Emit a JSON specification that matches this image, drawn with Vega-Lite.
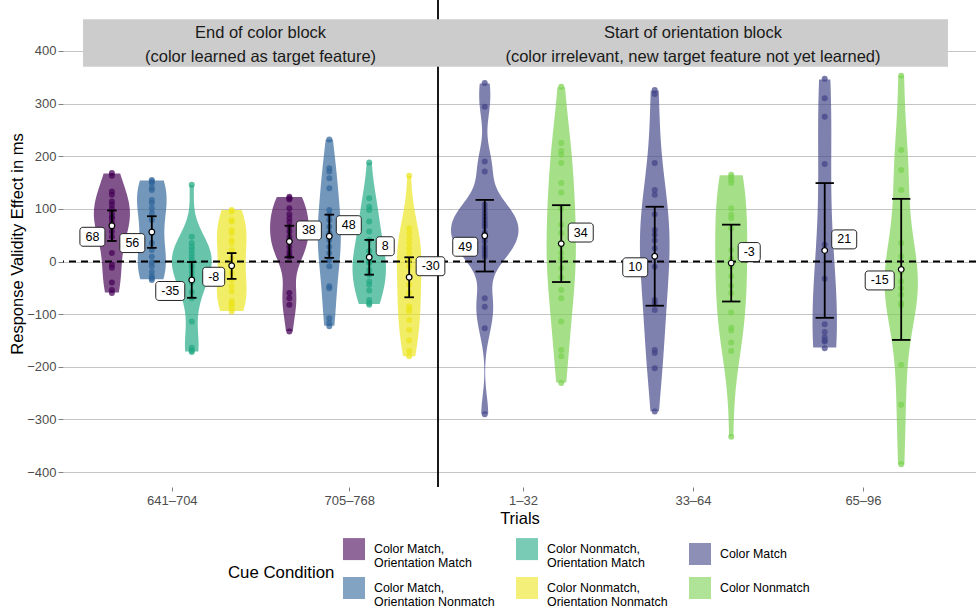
{
  "$schema": "https://vega.github.io/schema/vega-lite/v6.json",
  "width": 913,
  "height": 487,
  "autosize": {"type": "none"},
  "padding": {"left": 63, "top": 0, "right": 0, "bottom": 122},
  "background": "white",
  "config": {"font": "Liberation Sans", "view": {"stroke": null}},
  "datasets": {
    "responses": [
      {"trial":"641–704","condition":"Color Match, Orientation Match","effect":168},
      {"trial":"641–704","condition":"Color Match, Orientation Match","effect":163},
      {"trial":"641–704","condition":"Color Match, Orientation Match","effect":133},
      {"trial":"641–704","condition":"Color Match, Orientation Match","effect":127},
      {"trial":"641–704","condition":"Color Match, Orientation Match","effect":114},
      {"trial":"641–704","condition":"Color Match, Orientation Match","effect":108},
      {"trial":"641–704","condition":"Color Match, Orientation Match","effect":100},
      {"trial":"641–704","condition":"Color Match, Orientation Match","effect":92},
      {"trial":"641–704","condition":"Color Match, Orientation Match","effect":85},
      {"trial":"641–704","condition":"Color Match, Orientation Match","effect":82},
      {"trial":"641–704","condition":"Color Match, Orientation Match","effect":75},
      {"trial":"641–704","condition":"Color Match, Orientation Match","effect":66},
      {"trial":"641–704","condition":"Color Match, Orientation Match","effect":57},
      {"trial":"641–704","condition":"Color Match, Orientation Match","effect":47},
      {"trial":"641–704","condition":"Color Match, Orientation Match","effect":16},
      {"trial":"641–704","condition":"Color Match, Orientation Match","effect":-6},
      {"trial":"641–704","condition":"Color Match, Orientation Match","effect":-12},
      {"trial":"641–704","condition":"Color Match, Orientation Match","effect":-40},
      {"trial":"641–704","condition":"Color Match, Orientation Match","effect":-54},
      {"trial":"641–704","condition":"Color Match, Orientation Match","effect":-60},
      {"trial":"641–704","condition":"Color Match, Orientation Nonmatch","effect":155},
      {"trial":"641–704","condition":"Color Match, Orientation Nonmatch","effect":152},
      {"trial":"641–704","condition":"Color Match, Orientation Nonmatch","effect":149},
      {"trial":"641–704","condition":"Color Match, Orientation Nonmatch","effect":140},
      {"trial":"641–704","condition":"Color Match, Orientation Nonmatch","effect":136},
      {"trial":"641–704","condition":"Color Match, Orientation Nonmatch","effect":117},
      {"trial":"641–704","condition":"Color Match, Orientation Nonmatch","effect":111},
      {"trial":"641–704","condition":"Color Match, Orientation Nonmatch","effect":101},
      {"trial":"641–704","condition":"Color Match, Orientation Nonmatch","effect":92},
      {"trial":"641–704","condition":"Color Match, Orientation Nonmatch","effect":79},
      {"trial":"641–704","condition":"Color Match, Orientation Nonmatch","effect":54},
      {"trial":"641–704","condition":"Color Match, Orientation Nonmatch","effect":35},
      {"trial":"641–704","condition":"Color Match, Orientation Nonmatch","effect":22},
      {"trial":"641–704","condition":"Color Match, Orientation Nonmatch","effect":9},
      {"trial":"641–704","condition":"Color Match, Orientation Nonmatch","effect":-2},
      {"trial":"641–704","condition":"Color Match, Orientation Nonmatch","effect":-9},
      {"trial":"641–704","condition":"Color Match, Orientation Nonmatch","effect":-20},
      {"trial":"641–704","condition":"Color Match, Orientation Nonmatch","effect":-28},
      {"trial":"641–704","condition":"Color Match, Orientation Nonmatch","effect":-32},
      {"trial":"641–704","condition":"Color Match, Orientation Nonmatch","effect":-35},
      {"trial":"641–704","condition":"Color Nonmatch, Orientation Match","effect":146},
      {"trial":"641–704","condition":"Color Nonmatch, Orientation Match","effect":47},
      {"trial":"641–704","condition":"Color Nonmatch, Orientation Match","effect":35},
      {"trial":"641–704","condition":"Color Nonmatch, Orientation Match","effect":28},
      {"trial":"641–704","condition":"Color Nonmatch, Orientation Match","effect":22},
      {"trial":"641–704","condition":"Color Nonmatch, Orientation Match","effect":15},
      {"trial":"641–704","condition":"Color Nonmatch, Orientation Match","effect":9},
      {"trial":"641–704","condition":"Color Nonmatch, Orientation Match","effect":3},
      {"trial":"641–704","condition":"Color Nonmatch, Orientation Match","effect":-6},
      {"trial":"641–704","condition":"Color Nonmatch, Orientation Match","effect":-12},
      {"trial":"641–704","condition":"Color Nonmatch, Orientation Match","effect":-20},
      {"trial":"641–704","condition":"Color Nonmatch, Orientation Match","effect":-28},
      {"trial":"641–704","condition":"Color Nonmatch, Orientation Match","effect":-40},
      {"trial":"641–704","condition":"Color Nonmatch, Orientation Match","effect":-58},
      {"trial":"641–704","condition":"Color Nonmatch, Orientation Match","effect":-70},
      {"trial":"641–704","condition":"Color Nonmatch, Orientation Match","effect":-114},
      {"trial":"641–704","condition":"Color Nonmatch, Orientation Match","effect":-164},
      {"trial":"641–704","condition":"Color Nonmatch, Orientation Match","effect":-169},
      {"trial":"641–704","condition":"Color Nonmatch, Orientation Match","effect":-172},
      {"trial":"641–704","condition":"Color Nonmatch, Orientation Nonmatch","effect":98},
      {"trial":"641–704","condition":"Color Nonmatch, Orientation Nonmatch","effect":95},
      {"trial":"641–704","condition":"Color Nonmatch, Orientation Nonmatch","effect":79},
      {"trial":"641–704","condition":"Color Nonmatch, Orientation Nonmatch","effect":76},
      {"trial":"641–704","condition":"Color Nonmatch, Orientation Nonmatch","effect":60},
      {"trial":"641–704","condition":"Color Nonmatch, Orientation Nonmatch","effect":54},
      {"trial":"641–704","condition":"Color Nonmatch, Orientation Nonmatch","effect":41},
      {"trial":"641–704","condition":"Color Nonmatch, Orientation Nonmatch","effect":35},
      {"trial":"641–704","condition":"Color Nonmatch, Orientation Nonmatch","effect":22},
      {"trial":"641–704","condition":"Color Nonmatch, Orientation Nonmatch","effect":5},
      {"trial":"641–704","condition":"Color Nonmatch, Orientation Nonmatch","effect":-9},
      {"trial":"641–704","condition":"Color Nonmatch, Orientation Nonmatch","effect":-22},
      {"trial":"641–704","condition":"Color Nonmatch, Orientation Nonmatch","effect":-35},
      {"trial":"641–704","condition":"Color Nonmatch, Orientation Nonmatch","effect":-47},
      {"trial":"641–704","condition":"Color Nonmatch, Orientation Nonmatch","effect":-57},
      {"trial":"641–704","condition":"Color Nonmatch, Orientation Nonmatch","effect":-75},
      {"trial":"641–704","condition":"Color Nonmatch, Orientation Nonmatch","effect":-80},
      {"trial":"641–704","condition":"Color Nonmatch, Orientation Nonmatch","effect":-82},
      {"trial":"641–704","condition":"Color Nonmatch, Orientation Nonmatch","effect":-89},
      {"trial":"641–704","condition":"Color Nonmatch, Orientation Nonmatch","effect":-95},
      {"trial":"705–768","condition":"Color Match, Orientation Match","effect":123},
      {"trial":"705–768","condition":"Color Match, Orientation Match","effect":120},
      {"trial":"705–768","condition":"Color Match, Orientation Match","effect":118},
      {"trial":"705–768","condition":"Color Match, Orientation Match","effect":101},
      {"trial":"705–768","condition":"Color Match, Orientation Match","effect":90},
      {"trial":"705–768","condition":"Color Match, Orientation Match","effect":82},
      {"trial":"705–768","condition":"Color Match, Orientation Match","effect":75},
      {"trial":"705–768","condition":"Color Match, Orientation Match","effect":66},
      {"trial":"705–768","condition":"Color Match, Orientation Match","effect":57},
      {"trial":"705–768","condition":"Color Match, Orientation Match","effect":47},
      {"trial":"705–768","condition":"Color Match, Orientation Match","effect":38},
      {"trial":"705–768","condition":"Color Match, Orientation Match","effect":28},
      {"trial":"705–768","condition":"Color Match, Orientation Match","effect":19},
      {"trial":"705–768","condition":"Color Match, Orientation Match","effect":12},
      {"trial":"705–768","condition":"Color Match, Orientation Match","effect":9},
      {"trial":"705–768","condition":"Color Match, Orientation Match","effect":-60},
      {"trial":"705–768","condition":"Color Match, Orientation Match","effect":-70},
      {"trial":"705–768","condition":"Color Match, Orientation Match","effect":-82},
      {"trial":"705–768","condition":"Color Match, Orientation Match","effect":-133},
      {"trial":"705–768","condition":"Color Match, Orientation Nonmatch","effect":232},
      {"trial":"705–768","condition":"Color Match, Orientation Nonmatch","effect":177},
      {"trial":"705–768","condition":"Color Match, Orientation Nonmatch","effect":171},
      {"trial":"705–768","condition":"Color Match, Orientation Nonmatch","effect":158},
      {"trial":"705–768","condition":"Color Match, Orientation Nonmatch","effect":139},
      {"trial":"705–768","condition":"Color Match, Orientation Nonmatch","effect":98},
      {"trial":"705–768","condition":"Color Match, Orientation Nonmatch","effect":89},
      {"trial":"705–768","condition":"Color Match, Orientation Nonmatch","effect":79},
      {"trial":"705–768","condition":"Color Match, Orientation Nonmatch","effect":66},
      {"trial":"705–768","condition":"Color Match, Orientation Nonmatch","effect":54},
      {"trial":"705–768","condition":"Color Match, Orientation Nonmatch","effect":41},
      {"trial":"705–768","condition":"Color Match, Orientation Nonmatch","effect":28},
      {"trial":"705–768","condition":"Color Match, Orientation Nonmatch","effect":16},
      {"trial":"705–768","condition":"Color Match, Orientation Nonmatch","effect":3},
      {"trial":"705–768","condition":"Color Match, Orientation Nonmatch","effect":-9},
      {"trial":"705–768","condition":"Color Match, Orientation Nonmatch","effect":-47},
      {"trial":"705–768","condition":"Color Match, Orientation Nonmatch","effect":-51},
      {"trial":"705–768","condition":"Color Match, Orientation Nonmatch","effect":-108},
      {"trial":"705–768","condition":"Color Match, Orientation Nonmatch","effect":-117},
      {"trial":"705–768","condition":"Color Match, Orientation Nonmatch","effect":-123},
      {"trial":"705–768","condition":"Color Nonmatch, Orientation Match","effect":188},
      {"trial":"705–768","condition":"Color Nonmatch, Orientation Match","effect":120},
      {"trial":"705–768","condition":"Color Nonmatch, Orientation Match","effect":104},
      {"trial":"705–768","condition":"Color Nonmatch, Orientation Match","effect":98},
      {"trial":"705–768","condition":"Color Nonmatch, Orientation Match","effect":76},
      {"trial":"705–768","condition":"Color Nonmatch, Orientation Match","effect":57},
      {"trial":"705–768","condition":"Color Nonmatch, Orientation Match","effect":41},
      {"trial":"705–768","condition":"Color Nonmatch, Orientation Match","effect":20},
      {"trial":"705–768","condition":"Color Nonmatch, Orientation Match","effect":10},
      {"trial":"705–768","condition":"Color Nonmatch, Orientation Match","effect":9},
      {"trial":"705–768","condition":"Color Nonmatch, Orientation Match","effect":0},
      {"trial":"705–768","condition":"Color Nonmatch, Orientation Match","effect":-3},
      {"trial":"705–768","condition":"Color Nonmatch, Orientation Match","effect":-16},
      {"trial":"705–768","condition":"Color Nonmatch, Orientation Match","effect":-25},
      {"trial":"705–768","condition":"Color Nonmatch, Orientation Match","effect":-38},
      {"trial":"705–768","condition":"Color Nonmatch, Orientation Match","effect":-44},
      {"trial":"705–768","condition":"Color Nonmatch, Orientation Match","effect":-55},
      {"trial":"705–768","condition":"Color Nonmatch, Orientation Match","effect":-73},
      {"trial":"705–768","condition":"Color Nonmatch, Orientation Match","effect":-79},
      {"trial":"705–768","condition":"Color Nonmatch, Orientation Match","effect":-82},
      {"trial":"705–768","condition":"Color Nonmatch, Orientation Nonmatch","effect":163},
      {"trial":"705–768","condition":"Color Nonmatch, Orientation Nonmatch","effect":63},
      {"trial":"705–768","condition":"Color Nonmatch, Orientation Nonmatch","effect":54},
      {"trial":"705–768","condition":"Color Nonmatch, Orientation Nonmatch","effect":44},
      {"trial":"705–768","condition":"Color Nonmatch, Orientation Nonmatch","effect":35},
      {"trial":"705–768","condition":"Color Nonmatch, Orientation Nonmatch","effect":25},
      {"trial":"705–768","condition":"Color Nonmatch, Orientation Nonmatch","effect":16},
      {"trial":"705–768","condition":"Color Nonmatch, Orientation Nonmatch","effect":3},
      {"trial":"705–768","condition":"Color Nonmatch, Orientation Nonmatch","effect":-9},
      {"trial":"705–768","condition":"Color Nonmatch, Orientation Nonmatch","effect":-28},
      {"trial":"705–768","condition":"Color Nonmatch, Orientation Nonmatch","effect":-44},
      {"trial":"705–768","condition":"Color Nonmatch, Orientation Nonmatch","effect":-60},
      {"trial":"705–768","condition":"Color Nonmatch, Orientation Nonmatch","effect":-85},
      {"trial":"705–768","condition":"Color Nonmatch, Orientation Nonmatch","effect":-90},
      {"trial":"705–768","condition":"Color Nonmatch, Orientation Nonmatch","effect":-95},
      {"trial":"705–768","condition":"Color Nonmatch, Orientation Nonmatch","effect":-111},
      {"trial":"705–768","condition":"Color Nonmatch, Orientation Nonmatch","effect":-130},
      {"trial":"705–768","condition":"Color Nonmatch, Orientation Nonmatch","effect":-150},
      {"trial":"705–768","condition":"Color Nonmatch, Orientation Nonmatch","effect":-170},
      {"trial":"705–768","condition":"Color Nonmatch, Orientation Nonmatch","effect":-180},
      {"trial":"1–32","condition":"Color Match","effect":339},
      {"trial":"1–32","condition":"Color Match","effect":294},
      {"trial":"1–32","condition":"Color Match","effect":190},
      {"trial":"1–32","condition":"Color Match","effect":171},
      {"trial":"1–32","condition":"Color Match","effect":108},
      {"trial":"1–32","condition":"Color Match","effect":100},
      {"trial":"1–32","condition":"Color Match","effect":92},
      {"trial":"1–32","condition":"Color Match","effect":85},
      {"trial":"1–32","condition":"Color Match","effect":79},
      {"trial":"1–32","condition":"Color Match","effect":72},
      {"trial":"1–32","condition":"Color Match","effect":66},
      {"trial":"1–32","condition":"Color Match","effect":55},
      {"trial":"1–32","condition":"Color Match","effect":45},
      {"trial":"1–32","condition":"Color Match","effect":38},
      {"trial":"1–32","condition":"Color Match","effect":28},
      {"trial":"1–32","condition":"Color Match","effect":22},
      {"trial":"1–32","condition":"Color Match","effect":15},
      {"trial":"1–32","condition":"Color Match","effect":9},
      {"trial":"1–32","condition":"Color Match","effect":-70},
      {"trial":"1–32","condition":"Color Match","effect":-86},
      {"trial":"1–32","condition":"Color Match","effect":-127},
      {"trial":"1–32","condition":"Color Match","effect":-290},
      {"trial":"1–32","condition":"Color Nonmatch","effect":332},
      {"trial":"1–32","condition":"Color Nonmatch","effect":225},
      {"trial":"1–32","condition":"Color Nonmatch","effect":210},
      {"trial":"1–32","condition":"Color Nonmatch","effect":203},
      {"trial":"1–32","condition":"Color Nonmatch","effect":187},
      {"trial":"1–32","condition":"Color Nonmatch","effect":149},
      {"trial":"1–32","condition":"Color Nonmatch","effect":131},
      {"trial":"1–32","condition":"Color Nonmatch","effect":100},
      {"trial":"1–32","condition":"Color Nonmatch","effect":70},
      {"trial":"1–32","condition":"Color Nonmatch","effect":54},
      {"trial":"1–32","condition":"Color Nonmatch","effect":30},
      {"trial":"1–32","condition":"Color Nonmatch","effect":16},
      {"trial":"1–32","condition":"Color Nonmatch","effect":5},
      {"trial":"1–32","condition":"Color Nonmatch","effect":-13},
      {"trial":"1–32","condition":"Color Nonmatch","effect":-30},
      {"trial":"1–32","condition":"Color Nonmatch","effect":-54},
      {"trial":"1–32","condition":"Color Nonmatch","effect":-70},
      {"trial":"1–32","condition":"Color Nonmatch","effect":-114},
      {"trial":"1–32","condition":"Color Nonmatch","effect":-168},
      {"trial":"1–32","condition":"Color Nonmatch","effect":-180},
      {"trial":"1–32","condition":"Color Nonmatch","effect":-231},
      {"trial":"33–64","condition":"Color Match","effect":326},
      {"trial":"33–64","condition":"Color Match","effect":318},
      {"trial":"33–64","condition":"Color Match","effect":187},
      {"trial":"33–64","condition":"Color Match","effect":136},
      {"trial":"33–64","condition":"Color Match","effect":127},
      {"trial":"33–64","condition":"Color Match","effect":90},
      {"trial":"33–64","condition":"Color Match","effect":60},
      {"trial":"33–64","condition":"Color Match","effect":51},
      {"trial":"33–64","condition":"Color Match","effect":40},
      {"trial":"33–64","condition":"Color Match","effect":25},
      {"trial":"33–64","condition":"Color Match","effect":10},
      {"trial":"33–64","condition":"Color Match","effect":-10},
      {"trial":"33–64","condition":"Color Match","effect":-73},
      {"trial":"33–64","condition":"Color Match","effect":-80},
      {"trial":"33–64","condition":"Color Match","effect":-92},
      {"trial":"33–64","condition":"Color Match","effect":-168},
      {"trial":"33–64","condition":"Color Match","effect":-174},
      {"trial":"33–64","condition":"Color Match","effect":-203},
      {"trial":"33–64","condition":"Color Match","effect":-285},
      {"trial":"33–64","condition":"Color Nonmatch","effect":165},
      {"trial":"33–64","condition":"Color Nonmatch","effect":160},
      {"trial":"33–64","condition":"Color Nonmatch","effect":155},
      {"trial":"33–64","condition":"Color Nonmatch","effect":149},
      {"trial":"33–64","condition":"Color Nonmatch","effect":101},
      {"trial":"33–64","condition":"Color Nonmatch","effect":89},
      {"trial":"33–64","condition":"Color Nonmatch","effect":82},
      {"trial":"33–64","condition":"Color Nonmatch","effect":63},
      {"trial":"33–64","condition":"Color Nonmatch","effect":22},
      {"trial":"33–64","condition":"Color Nonmatch","effect":5},
      {"trial":"33–64","condition":"Color Nonmatch","effect":-10},
      {"trial":"33–64","condition":"Color Nonmatch","effect":-28},
      {"trial":"33–64","condition":"Color Nonmatch","effect":-46},
      {"trial":"33–64","condition":"Color Nonmatch","effect":-60},
      {"trial":"33–64","condition":"Color Nonmatch","effect":-97},
      {"trial":"33–64","condition":"Color Nonmatch","effect":-126},
      {"trial":"33–64","condition":"Color Nonmatch","effect":-131},
      {"trial":"33–64","condition":"Color Nonmatch","effect":-154},
      {"trial":"33–64","condition":"Color Nonmatch","effect":-170},
      {"trial":"33–64","condition":"Color Nonmatch","effect":-333},
      {"trial":"65–96","condition":"Color Match","effect":347},
      {"trial":"65–96","condition":"Color Match","effect":310},
      {"trial":"65–96","condition":"Color Match","effect":275},
      {"trial":"65–96","condition":"Color Match","effect":185},
      {"trial":"65–96","condition":"Color Match","effect":32},
      {"trial":"65–96","condition":"Color Match","effect":-33},
      {"trial":"65–96","condition":"Color Match","effect":-119},
      {"trial":"65–96","condition":"Color Match","effect":-134},
      {"trial":"65–96","condition":"Color Match","effect":-144},
      {"trial":"65–96","condition":"Color Match","effect":-150},
      {"trial":"65–96","condition":"Color Match","effect":-152},
      {"trial":"65–96","condition":"Color Match","effect":-165},
      {"trial":"65–96","condition":"Color Nonmatch","effect":353},
      {"trial":"65–96","condition":"Color Nonmatch","effect":212},
      {"trial":"65–96","condition":"Color Nonmatch","effect":174},
      {"trial":"65–96","condition":"Color Nonmatch","effect":136},
      {"trial":"65–96","condition":"Color Nonmatch","effect":35},
      {"trial":"65–96","condition":"Color Nonmatch","effect":10},
      {"trial":"65–96","condition":"Color Nonmatch","effect":-20},
      {"trial":"65–96","condition":"Color Nonmatch","effect":-38},
      {"trial":"65–96","condition":"Color Nonmatch","effect":-51},
      {"trial":"65–96","condition":"Color Nonmatch","effect":-63},
      {"trial":"65–96","condition":"Color Nonmatch","effect":-79},
      {"trial":"65–96","condition":"Color Nonmatch","effect":-83},
      {"trial":"65–96","condition":"Color Nonmatch","effect":-196},
      {"trial":"65–96","condition":"Color Nonmatch","effect":-272},
      {"trial":"65–96","condition":"Color Nonmatch","effect":-385}
    ],
    "summary": [
      {"trial":"641–704","condition":"Color Match, Orientation Match","mean":68,"lower":39,"upper":97},
      {"trial":"641–704","condition":"Color Match, Orientation Nonmatch","mean":56,"lower":26,"upper":86},
      {"trial":"641–704","condition":"Color Nonmatch, Orientation Match","mean":-35,"lower":-69,"upper":-1},
      {"trial":"641–704","condition":"Color Nonmatch, Orientation Nonmatch","mean":-8,"lower":-33,"upper":16},
      {"trial":"705–768","condition":"Color Match, Orientation Match","mean":38,"lower":8,"upper":68},
      {"trial":"705–768","condition":"Color Match, Orientation Nonmatch","mean":48,"lower":7,"upper":89},
      {"trial":"705–768","condition":"Color Nonmatch, Orientation Match","mean":8,"lower":-25,"upper":41},
      {"trial":"705–768","condition":"Color Nonmatch, Orientation Nonmatch","mean":-30,"lower":-68,"upper":8},
      {"trial":"1–32","condition":"Color Match","mean":49,"lower":-19,"upper":117},
      {"trial":"1–32","condition":"Color Nonmatch","mean":34,"lower":-39,"upper":107},
      {"trial":"33–64","condition":"Color Match","mean":10,"lower":-84,"upper":104},
      {"trial":"33–64","condition":"Color Nonmatch","mean":-3,"lower":-76,"upper":70},
      {"trial":"65–96","condition":"Color Match","mean":21,"lower":-107,"upper":149},
      {"trial":"65–96","condition":"Color Nonmatch","mean":-15,"lower":-149,"upper":119}
    ],
    "blocks": [
      {"heading":"End of color block","note":"(color learned as target feature)","first":1,"last":2},
      {"heading":"Start of orientation block","note":"(color irrelevant, new target feature not yet learned)","first":3,"last":5}
    ]
  },
  "layer": [
    {
      "data": {"name": "responses"},
      "transform": [
        {"joinaggregate": [{"op": "min", "field": "effect", "as": "lo"}, {"op": "max", "field": "effect", "as": "hi"}], "groupby": ["trial", "condition"]},
        {"density": "effect", "groupby": ["trial", "condition", "lo", "hi"], "steps": 500, "as": ["effect", "density"]},
        {"filter": "datum.effect >= datum.lo && datum.effect <= datum.hi"},
        {"joinaggregate": [{"op": "max", "field": "density", "as": "peak"}]},
        {"calculate": "indexof(['641–704','705–768','1–32','33–64','65–96'], datum.trial) + 1", "as": "ti"},
        {"calculate": "datum.ti <= 2 ? 4 : 2", "as": "groups"},
        {"calculate": "datum.ti <= 2 ? indexof(['Color Match, Orientation Match','Color Match, Orientation Nonmatch','Color Nonmatch, Orientation Match','Color Nonmatch, Orientation Nonmatch'], datum.condition) : indexof(['Color Match','Color Nonmatch'], datum.condition)", "as": "ci"},
        {"calculate": "0.9 / datum.groups", "as": "slot"},
        {"calculate": "datum.ti + (datum.ci - (datum.groups - 1) / 2) * datum.slot", "as": "cx"},
        {"calculate": "datum.density / datum.peak * datum.slot / 2", "as": "hw"},
        {"calculate": "datum.cx - datum.hw", "as": "xl"},
        {"calculate": "datum.cx + datum.hw", "as": "xr"}
      ],
      "mark": {"type": "area", "orient": "horizontal", "opacity": 0.68},
      "encoding": {
        "y": {
          "field": "effect", "type": "quantitative",
          "scale": {"domain": [-428.4, 496.8], "nice": false, "zero": false},
          "axis": {
            "values": [-400, -300, -200, -100, 0, 100, 200, 300, 400],
            "title": "Response Validity Effect in ms",
            "titleFontSize": 16.5, "titleFontWeight": "normal", "titleColor": "black", "titlePadding": 1,
            "labelFontSize": 13, "labelColor": "#4d4d4d", "labelPadding": 2,
            "tickColor": "#808080", "tickSize": 5, "domain": false,
            "grid": true, "gridColor": "#c4c4c4", "gridWidth": 1.2
          }
        },
        "x": {
          "field": "xl", "type": "quantitative",
          "scale": {"domain": [0.387, 2.5, 5.665], "range": [0, 375, 913], "nice": false, "zero": false},
          "axis": {
            "values": [1, 2, 3, 4, 5],
            "labelExpr": "['641–704','705–768','1–32','33–64','65–96'][datum.value - 1]",
            "title": "Trials",
            "titleFontSize": 16.5, "titleFontWeight": "normal", "titleColor": "black", "titlePadding": 3,
            "labelFontSize": 13, "labelColor": "#4d4d4d", "labelPadding": 3,
            "tickColor": "#808080", "tickSize": 4, "domain": false, "grid": false
          }
        },
        "x2": {"field": "xr"},
        "detail": {"field": "trial"},
        "color": {
          "field": "condition", "type": "nominal",
          "scale": {
            "domain": ["Color Match, Orientation Match", "Color Nonmatch, Orientation Match", "Color Match", "Color Match, Orientation Nonmatch", "Color Nonmatch, Orientation Nonmatch", "Color Nonmatch"],
            "range": ["#440154", "#22a884", "#414487", "#31659a", "#ece51f", "#7ad151"]
          },
          "legend": {
            "orient": "none", "legendX": 165, "legendY": 538,
            "direction": "horizontal", "columns": 3,
            "title": "Cue Condition", "titleOrient": "left", "titleAnchor": "middle", "titleAngle": 0,
            "titleFontSize": 16.8, "titleFontWeight": "normal", "titleColor": "black", "titlePadding": 8,
            "symbolType": "square", "symbolSize": 484, "symbolOpacity": 0.6, "symbolStrokeWidth": 0,
            "labelFontSize": 12.4, "labelColor": "black", "labelLimit": 200, "labelOffset": 9,
            "columnPadding": 21, "rowPadding": 7, "padding": 0,
            "labelExpr": "indexof(datum.label, ', ') > 0 ? [slice(datum.label, 0, indexof(datum.label, ', ') + 1), slice(datum.label, indexof(datum.label, ', ') + 2)] : datum.label"
          }
        }
      }
    },
    {
      "data": {"values": [{}]},
      "mark": {"type": "rule", "color": "black", "strokeWidth": 1.8, "strokeDash": [7, 5]},
      "encoding": {"y": {"datum": 0, "type": "quantitative"}}
    },
    {
      "data": {"values": [{}]},
      "mark": {"type": "rule", "color": "black", "strokeWidth": 1.8},
      "encoding": {"x": {"datum": 2.5, "type": "quantitative"}}
    },
    {
      "data": {"name": "blocks"},
      "transform": [
        {"calculate": "datum.first - 0.5", "as": "left"},
        {"calculate": "datum.last + 0.5", "as": "right"}
      ],
      "mark": {"type": "rect", "color": "#cccccc"},
      "encoding": {
        "x": {"field": "left", "type": "quantitative"},
        "x2": {"field": "right"},
        "y": {"datum": 370, "type": "quantitative"},
        "y2": {"datum": 460}
      }
    },
    {
      "data": {"name": "blocks"},
      "transform": [{"calculate": "(datum.first + datum.last) / 2", "as": "mid"}],
      "mark": {"type": "text", "fontSize": 16.5, "color": "#1a1a1a", "baseline": "middle"},
      "encoding": {
        "x": {"field": "mid", "type": "quantitative"},
        "y": {"datum": 435, "type": "quantitative"},
        "text": {"field": "heading"}
      }
    },
    {
      "data": {"name": "blocks"},
      "transform": [{"calculate": "(datum.first + datum.last) / 2", "as": "mid"}],
      "mark": {"type": "text", "fontSize": 16.5, "color": "#1a1a1a", "baseline": "middle"},
      "encoding": {
        "x": {"field": "mid", "type": "quantitative"},
        "y": {"datum": 389, "type": "quantitative"},
        "text": {"field": "note"}
      }
    },
    {
      "data": {"name": "responses"},
      "transform": [
        {"calculate": "indexof(['641–704','705–768','1–32','33–64','65–96'], datum.trial) + 1", "as": "ti"},
        {"calculate": "datum.ti <= 2 ? 4 : 2", "as": "groups"},
        {"calculate": "datum.ti <= 2 ? indexof(['Color Match, Orientation Match','Color Match, Orientation Nonmatch','Color Nonmatch, Orientation Match','Color Nonmatch, Orientation Nonmatch'], datum.condition) : indexof(['Color Match','Color Nonmatch'], datum.condition)", "as": "ci"},
        {"calculate": "0.9 / datum.groups", "as": "slot"},
        {"calculate": "datum.ti + (datum.ci - (datum.groups - 1) / 2) * datum.slot", "as": "cx"}
      ],
      "mark": {"type": "point", "filled": true, "size": 36, "opacity": 0.72},
      "encoding": {
        "x": {"field": "cx", "type": "quantitative"},
        "y": {"field": "effect", "type": "quantitative"},
        "color": {"field": "condition", "type": "nominal", "legend": null}
      }
    },
    {
      "data": {"name": "summary"},
      "transform": [
        {"calculate": "indexof(['641–704','705–768','1–32','33–64','65–96'], datum.trial) + 1", "as": "ti"},
        {"calculate": "datum.ti <= 2 ? 4 : 2", "as": "groups"},
        {"calculate": "datum.ti <= 2 ? indexof(['Color Match, Orientation Match','Color Match, Orientation Nonmatch','Color Nonmatch, Orientation Match','Color Nonmatch, Orientation Nonmatch'], datum.condition) : indexof(['Color Match','Color Nonmatch'], datum.condition)", "as": "ci"},
        {"calculate": "0.9 / datum.groups", "as": "slot"},
        {"calculate": "datum.ti + (datum.ci - (datum.groups - 1) / 2) * datum.slot", "as": "cx"}
      ],
      "mark": {"type": "rule", "color": "black", "strokeWidth": 1.8},
      "encoding": {
        "x": {"field": "cx", "type": "quantitative"},
        "y": {"field": "lower", "type": "quantitative"},
        "y2": {"field": "upper"}
      }
    },
    {
      "data": {"name": "summary"},
      "transform": [
        {"calculate": "indexof(['641–704','705–768','1–32','33–64','65–96'], datum.trial) + 1", "as": "ti"},
        {"calculate": "datum.ti <= 2 ? 4 : 2", "as": "groups"},
        {"calculate": "datum.ti <= 2 ? indexof(['Color Match, Orientation Match','Color Match, Orientation Nonmatch','Color Nonmatch, Orientation Match','Color Nonmatch, Orientation Nonmatch'], datum.condition) : indexof(['Color Match','Color Nonmatch'], datum.condition)", "as": "ci"},
        {"calculate": "0.9 / datum.groups", "as": "slot"},
        {"calculate": "datum.ti + (datum.ci - (datum.groups - 1) / 2) * datum.slot", "as": "cx"},
        {"fold": ["lower", "upper"], "as": ["bound", "limit"]},
        {"calculate": "datum.cx - datum.slot * 0.12", "as": "capL"},
        {"calculate": "datum.cx + datum.slot * 0.12", "as": "capR"}
      ],
      "mark": {"type": "rule", "color": "black", "strokeWidth": 1.8},
      "encoding": {
        "x": {"field": "capL", "type": "quantitative"},
        "x2": {"field": "capR"},
        "y": {"field": "limit", "type": "quantitative"}
      }
    },
    {
      "data": {"name": "summary"},
      "transform": [
        {"calculate": "indexof(['641–704','705–768','1–32','33–64','65–96'], datum.trial) + 1", "as": "ti"},
        {"calculate": "datum.ti <= 2 ? 4 : 2", "as": "groups"},
        {"calculate": "datum.ti <= 2 ? indexof(['Color Match, Orientation Match','Color Match, Orientation Nonmatch','Color Nonmatch, Orientation Match','Color Nonmatch, Orientation Nonmatch'], datum.condition) : indexof(['Color Match','Color Nonmatch'], datum.condition)", "as": "ci"},
        {"calculate": "0.9 / datum.groups", "as": "slot"},
        {"calculate": "datum.ti + (datum.ci - (datum.groups - 1) / 2) * datum.slot", "as": "cx"}
      ],
      "mark": {"type": "point", "shape": "circle", "filled": true, "fill": "white", "stroke": "black", "strokeWidth": 1.2, "size": 32, "opacity": 1},
      "encoding": {
        "x": {"field": "cx", "type": "quantitative"},
        "y": {"field": "mean", "type": "quantitative"}
      }
    },
    {
      "data": {"name": "summary"},
      "transform": [
        {"calculate": "indexof(['641–704','705–768','1–32','33–64','65–96'], datum.trial) + 1", "as": "ti"},
        {"calculate": "datum.ti <= 2 ? 4 : 2", "as": "groups"},
        {"calculate": "datum.ti <= 2 ? indexof(['Color Match, Orientation Match','Color Match, Orientation Nonmatch','Color Nonmatch, Orientation Match','Color Nonmatch, Orientation Nonmatch'], datum.condition) : indexof(['Color Match','Color Nonmatch'], datum.condition)", "as": "ci"},
        {"calculate": "0.9 / datum.groups", "as": "slot"},
        {"calculate": "datum.ti + (datum.ci - (datum.groups - 1) / 2) * datum.slot", "as": "cx"},
        {"calculate": "toString(datum.mean)", "as": "label"},
        {"calculate": "(datum.trial === '641–704' || (datum.trial === '1–32' && datum.condition === 'Color Match') || (datum.trial === '33–64' && datum.condition === 'Color Match') || (datum.trial === '65–96' && datum.condition === 'Color Nonmatch')) ? -1 : 1", "as": "side"},
        {"calculate": "datum.ti <= 2 ? 177.5 : 170", "as": "ppu"},
        {"calculate": "11 + 7 * length(datum.label) - (datum.mean < 0 ? 3 : 0)", "as": "boxw"},
        {"calculate": "datum.cx + datum.side * 7 / datum.ppu", "as": "bx1"},
        {"calculate": "datum.cx + datum.side * (7 + datum.boxw) / datum.ppu", "as": "bx2"},
        {"calculate": "datum.mean + datum.side * 21", "as": "yc"},
        {"calculate": "datum.yc - 18", "as": "by1"},
        {"calculate": "datum.yc + 18", "as": "by2"}
      ],
      "mark": {"type": "rect", "fill": "white", "stroke": "#222222", "strokeWidth": 1, "cornerRadius": 3},
      "encoding": {
        "x": {"field": "bx1", "type": "quantitative"},
        "x2": {"field": "bx2"},
        "y": {"field": "by1", "type": "quantitative"},
        "y2": {"field": "by2"}
      }
    },
    {
      "data": {"name": "summary"},
      "transform": [
        {"calculate": "indexof(['641–704','705–768','1–32','33–64','65–96'], datum.trial) + 1", "as": "ti"},
        {"calculate": "datum.ti <= 2 ? 4 : 2", "as": "groups"},
        {"calculate": "datum.ti <= 2 ? indexof(['Color Match, Orientation Match','Color Match, Orientation Nonmatch','Color Nonmatch, Orientation Match','Color Nonmatch, Orientation Nonmatch'], datum.condition) : indexof(['Color Match','Color Nonmatch'], datum.condition)", "as": "ci"},
        {"calculate": "0.9 / datum.groups", "as": "slot"},
        {"calculate": "datum.ti + (datum.ci - (datum.groups - 1) / 2) * datum.slot", "as": "cx"},
        {"calculate": "toString(datum.mean)", "as": "label"},
        {"calculate": "(datum.trial === '641–704' || (datum.trial === '1–32' && datum.condition === 'Color Match') || (datum.trial === '33–64' && datum.condition === 'Color Match') || (datum.trial === '65–96' && datum.condition === 'Color Nonmatch')) ? -1 : 1", "as": "side"},
        {"calculate": "datum.ti <= 2 ? 177.5 : 170", "as": "ppu"},
        {"calculate": "11 + 7 * length(datum.label) - (datum.mean < 0 ? 3 : 0)", "as": "boxw"},
        {"calculate": "datum.cx + datum.side * (7 + datum.boxw / 2) / datum.ppu", "as": "bxc"},
        {"calculate": "datum.mean + datum.side * 21", "as": "yc"}
      ],
      "mark": {"type": "text", "fontSize": 12.5, "color": "black", "align": "center", "baseline": "middle"},
      "encoding": {
        "x": {"field": "bxc", "type": "quantitative"},
        "y": {"field": "yc", "type": "quantitative"},
        "text": {"field": "label"}
      }
    }
  ]
}
